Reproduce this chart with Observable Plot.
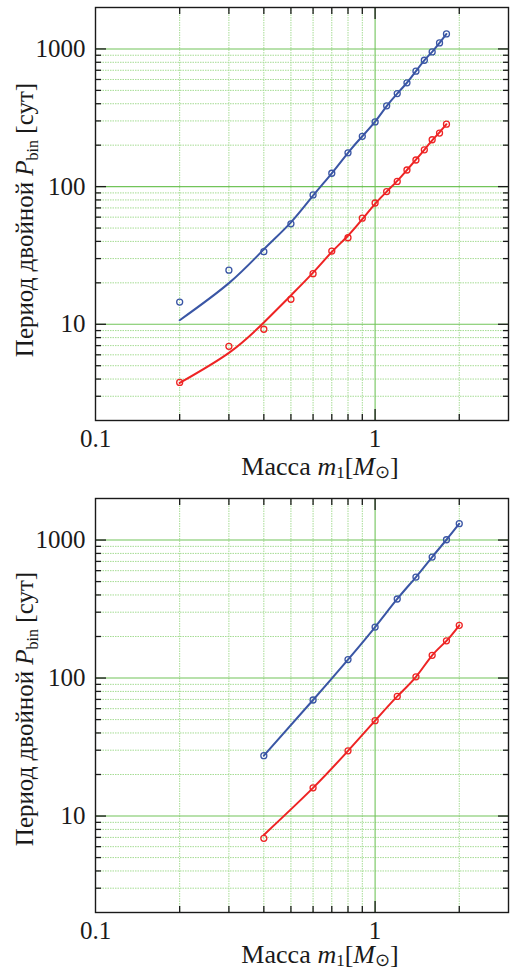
<!DOCTYPE html>
<html><head><meta charset="utf-8">
<script src="https://cdn.jsdelivr.net/npm/d3@7"></script>
<script src="https://cdn.jsdelivr.net/npm/@observablehq/plot@0.6"></script>
<style>
body{margin:0;background:#fff}
svg{display:block;overflow:visible}
</style>
</head><body><div id="chart"></div>
<script>
// ---- Data ----
const massTop = [0.2,0.3,0.4,0.5,0.6,0.7,0.8,0.9,1.0,1.1,1.2,1.3,1.4,1.5,1.6,1.7,1.8];
const blueTop = [14.5,24.7,33.7,53.7,87,125,176,232,295,386,474,567,689,828,951,1105,1285];
const redTop  = [3.78,6.92,9.2,15.2,23.3,34,42.5,59,76,92,109,132,156,185,219,245,284];
const blueTopFit = [10.7,19.9,35,55,86,125,176,232,296,384,474,568,689,826,953,1105,1285];
const redTopFit  = [3.75,6.2,10.3,16.2,23.7,33.5,44,58,75,92,110,132,157,185,217,248,284];

const massBottom = [0.4,0.6,0.8,1.0,1.2,1.4,1.6,1.8,2.0];
const blueBottom = [27.4,69.3,136,234,374,539,753,1005,1313];
const redBottom  = [6.9,16.0,29.7,49.1,73.6,102,146,186,241];
const blueBottomFit = [27.4,69.3,136,234,374,539,753,1005,1313];
const redBottomFit  = [7.3,16.0,29.7,49.1,73.6,102,146,186,241];

// ---- Axes / grid values ----
const xMinor = [0.2,0.3,0.4,0.5,0.6,0.7,0.8,0.9,2];
const xMajor = [1];
const yMinor = [3,4,5,6,7,8,9,20,30,40,50,60,70,80,90,200,300,400,500,600,700,800,900];
const yMajor = [10,100,1000];
const xTickLabels = [0.1, 1];
const yTickLabels = [10, 100, 1000];

const BLUE = "#3a56a5", RED = "#ee2424";
const GMIN = "#a6dc94", GMAJ = "#72c45a";
const FONT = "Liberation Serif";

function panel({height, marginTop, marginBottom, mass, blue, red, blueFit, redFit, yLabelY, xLabelY}) {
  const tA = mass.map((m,i)=>({m, p: blue[i]}));
  const tB = mass.map((m,i)=>({m, p: red[i]}));
  const fA = mass.map((m,i)=>({m, p: blueFit[i]}));
  const fB = mass.map((m,i)=>({m, p: redFit[i]}));
  const svg = Plot.plot({
    width: 510, height, marginTop, marginBottom, marginLeft: 95, marginRight: 2,
    style: {fontFamily: FONT, fontSize: "25px", color: "#1a1a1a", background: "#fff"},
    x: {type: "log", domain: [0.1, 3]},
    y: {type: "log", domain: [2, 2000]},
    marks: [
      Plot.ruleX(xMinor, {stroke: GMIN, strokeWidth: 1, strokeDasharray: "1.5,1"}),
      Plot.ruleY(yMinor, {stroke: GMIN, strokeWidth: 1, strokeDasharray: "1.5,1"}),
      Plot.ruleX(xMajor, {stroke: GMAJ, strokeWidth: 1.1}),
      Plot.ruleY(yMajor, {stroke: GMAJ, strokeWidth: 1.1}),
      // inward ticks on all sides
      Plot.axisX({anchor: "bottom", ticks: xMinor, tickSize: -6, fill: "none", label: null, strokeWidth: 1.3}),
      Plot.axisX({anchor: "top", ticks: xMinor, tickSize: -6, fill: "none", label: null, strokeWidth: 1.3}),
      Plot.axisX({anchor: "bottom", ticks: xMajor, tickSize: -11, fill: "none", label: null, strokeWidth: 1.3}),
      Plot.axisX({anchor: "top", ticks: xMajor, tickSize: -11, fill: "none", label: null, strokeWidth: 1.3}),
      Plot.axisY({anchor: "left", ticks: yMinor, tickSize: -6, fill: "none", label: null, strokeWidth: 1.3}),
      Plot.axisY({anchor: "right", ticks: yMinor, tickSize: -6, fill: "none", label: null, strokeWidth: 1.3}),
      Plot.axisY({anchor: "left", ticks: yMajor, tickSize: -11, fill: "none", label: null, strokeWidth: 1.3}),
      Plot.axisY({anchor: "right", ticks: yMajor, tickSize: -11, fill: "none", label: null, strokeWidth: 1.3}),
      // tick labels
      Plot.axisX({anchor: "bottom", ticks: xTickLabels, tickSize: 0, tickPadding: 9, tickFormat: d => String(d), label: null, fontSize: 25}),
      Plot.axisY({anchor: "left", ticks: yTickLabels, tickSize: 0, tickPadding: 10, tickFormat: d => String(d), label: null, fontSize: 25}),
      Plot.frame({stroke: "#1a1a1a", strokeWidth: 1.4}),
      Plot.line(fA, {x: "m", y: "p", stroke: BLUE, strokeWidth: 2, curve: "natural"}),
      Plot.line(fB, {x: "m", y: "p", stroke: RED, strokeWidth: 2, curve: "natural"}),
      Plot.dot(tA, {x: "m", y: "p", r: 3, stroke: BLUE, strokeWidth: 1.3, fill: "none"}),
      Plot.dot(tB, {x: "m", y: "p", r: 3, stroke: RED, strokeWidth: 1.3, fill: "none"})
    ]
  });
  const s = d3.select(svg);
  // y label
  const yl = s.append("text")
    .attr("transform", `translate(33,${yLabelY}) rotate(-90)`)
    .attr("text-anchor", "middle")
    .attr("fill", "#1a1a1a")
    .attr("font-family", FONT)
    .attr("font-size", 25);
  yl.append("tspan").text("Период двойной ");
  yl.append("tspan").attr("font-style", "italic").text("P");
  yl.append("tspan").attr("font-size", 16).attr("dy", 5).text("bin");
  yl.append("tspan").attr("dy", -5).text(" [сут]");
  // x label
  const xl = s.append("text")
    .attr("x", 320).attr("y", xLabelY)
    .attr("text-anchor", "middle")
    .attr("fill", "#1a1a1a")
    .attr("font-family", FONT)
    .attr("font-size", 26);
  xl.append("tspan").text("Масса ");
  xl.append("tspan").attr("font-style", "italic").text("m");
  xl.append("tspan").attr("font-size", 17).attr("dy", 3).text("1");
  xl.append("tspan").attr("dy", -3).text("[");
  xl.append("tspan").attr("font-style", "italic").text("M");
  xl.append("tspan").attr("font-size", 18).attr("dy", 3).text("⊙");
  xl.append("tspan").attr("dy", -3).text("]");
  return svg;
}

const root = document.getElementById("chart");
root.appendChild(panel({height: 490, marginTop: 7, marginBottom: 70,
  mass: massTop, blue: blueTop, red: redTop, blueFit: blueTopFit, redFit: redTopFit,
  yLabelY: 220, xLabelY: 475}));
root.appendChild(panel({height: 479, marginTop: 8, marginBottom: 57,
  mass: massBottom, blue: blueBottom, red: redBottom, blueFit: blueBottomFit, redFit: redBottomFit,
  yLabelY: 219, xLabelY: 473}));
</script></body></html>
